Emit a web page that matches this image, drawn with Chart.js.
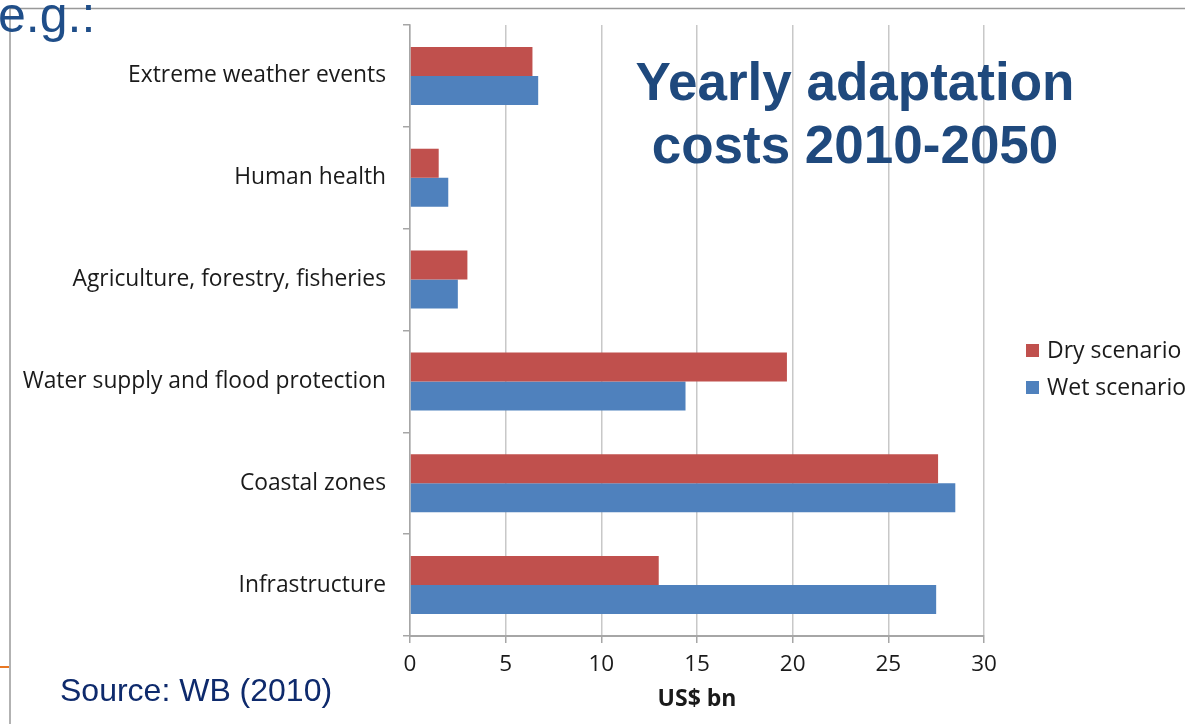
<!DOCTYPE html>
<html>
<head>
<meta charset="utf-8">
<script src="https://cdn.jsdelivr.net/npm/chart.js@4/dist/chart.umd.min.js"></script>
<style>
  html, body { margin: 0; padding: 0; background: #fff; overflow: hidden; }
  #wrap { position: relative; width: 1185px; height: 724px; }
</style>
</head>
<body>
<div id="wrap"><canvas id="costChart" width="1185" height="724"></canvas></div>
<script>
// sectors, top to bottom
const sectors = [
  'Extreme weather events',
  'Human health',
  'Agriculture, forestry, fisheries',
  'Water supply and flood protection',
  'Coastal zones',
  'Infrastructure'
];
// US$ bn per year
const dryScenario = [6.4, 1.5, 3.0, 19.7, 27.6, 13.0];
const wetScenario = [6.7, 2.0, 2.5, 14.4, 28.5, 27.5];
const xTicks = [0, 5, 10, 15, 20, 25, 30];

const labelFont = '"Open Sans", "Noto Sans", sans-serif';
const gray = '#a6a6a6';

// slide furniture + legend + overlaid title
const slide = {
  id: 'slide',
  beforeDraw(chart) {
    const ctx = chart.ctx;
    ctx.save();
    ctx.fillStyle = '#fff';
    ctx.fillRect(0, 0, chart.width, chart.height);
    ctx.strokeStyle = '#999';
    ctx.lineWidth = 1.5;
    ctx.beginPath();
    ctx.moveTo(10, 8.5); ctx.lineTo(chart.width, 8.5);
    ctx.moveTo(10, 8.5); ctx.lineTo(10, chart.height);
    ctx.stroke();
    ctx.strokeStyle = '#e87722';
    ctx.lineWidth = 2;
    ctx.beginPath();
    ctx.moveTo(0, 667); ctx.lineTo(9, 667);
    ctx.stroke();
    ctx.restore();
  },
  afterDraw(chart) {
    const ctx = chart.ctx;
    ctx.save();
    // "e.g.:"
    ctx.fillStyle = '#1f4e89';
    ctx.font = '50px "Liberation Sans", Arial, sans-serif';
    ctx.textAlign = 'left';
    ctx.textBaseline = 'alphabetic';
    ctx.fillText('e.g.:', -2, 32);

    // title
    ctx.fillStyle = '#1f497d';
    ctx.font = 'bold 53px "Liberation Sans", Arial, sans-serif';
    ctx.textAlign = 'center';
    ctx.fillText('Yearly adaptation', 855, 100);
    ctx.fillText('costs 2010-2050', 855, 163);

    // source
    ctx.fillStyle = '#0e2a6c';
    ctx.font = '32px "Liberation Sans", Arial, sans-serif';
    ctx.textAlign = 'left';
    ctx.fillText('Source: WB (2010)', 60, 701);

    // legend
    ctx.font = '23px ' + labelFont;
    ctx.textBaseline = 'middle';
    chart.data.datasets.forEach((ds, i) => {
      const y = 351 + i * 37;
      ctx.fillStyle = ds.backgroundColor;
      ctx.fillRect(1026, y - 7, 13, 13);
      ctx.fillStyle = '#1a1a1a';
      ctx.fillText(ds.label, 1047, y);
    });
    ctx.restore();
  }
};

new Chart(document.getElementById('costChart'), {
  type: 'bar',
  data: {
    labels: sectors,
    datasets: [
      { label: 'Dry scenario', data: dryScenario, backgroundColor: '#c0504d' },
      { label: 'Wet scenario', data: wetScenario, backgroundColor: '#4f81bd' }
    ]
  },
  options: {
    indexAxis: 'y',
    responsive: false,
    animation: false,
    devicePixelRatio: 1,
    layout: { padding: { top: 25, right: 201, left: 0, bottom: 0 } },
    datasets: { bar: { categoryPercentage: 0.57, barPercentage: 1.0 } },
    plugins: {
      legend: { display: false },
      tooltip: { enabled: false }
    },
    scales: {
      x: {
        min: 0,
        max: 30,
        afterBuildTicks(scale) { scale.ticks = xTicks.map(v => ({ value: v })); },
        afterFit(scale) { scale.height = 88; },
        grid: { color: '#c8c8c8', lineWidth: 1.5, tickLength: 7, tickColor: gray },
        border: { color: gray, width: 2 },
        ticks: { color: '#1a1a1a', font: { family: labelFont, size: 22.5 }, padding: 8 },
        title: {
          display: true,
          text: 'US$ bn',
          color: '#1a1a1a',
          font: { family: labelFont, size: 23, weight: 'bold' },
          padding: { top: 2, bottom: 11 }
        }
      },
      y: {
        afterFit(scale) {
          scale.width = 410;
          scale.paddingTop = 0;
          scale.paddingBottom = 0;
        },
        grid: { drawOnChartArea: false, tickLength: 7, color: gray, lineWidth: 1.5 },
        border: { color: gray, width: 1.5 },
        ticks: { color: '#1a1a1a', font: { family: labelFont, size: 22.8 }, padding: 17 }
      }
    }
  },
  plugins: [slide]
});
</script>
</body>
</html>
